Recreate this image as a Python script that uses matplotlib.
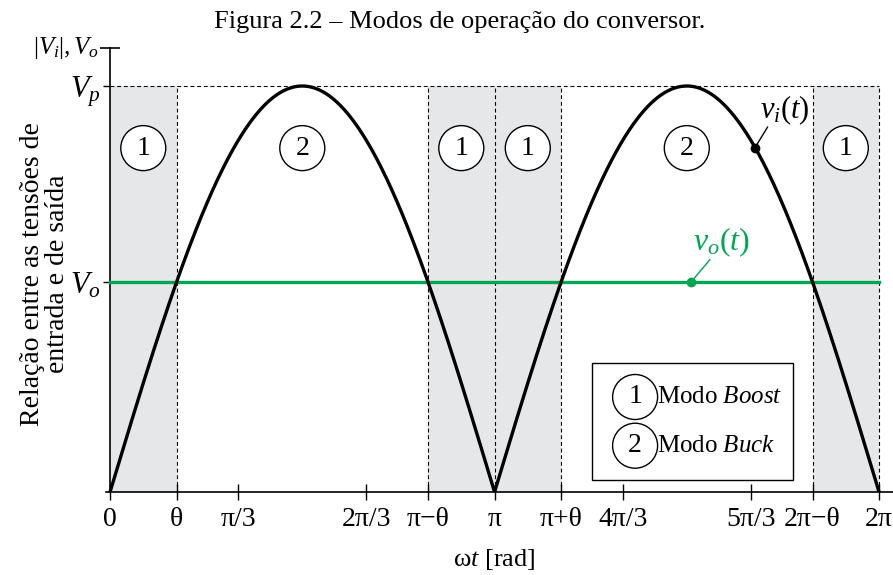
#!/usr/bin/env python3
"""Operating modes of the converter: rectified input vs. output voltage."""

import matplotlib

matplotlib.use("Agg")
import matplotlib.pyplot as plt
import numpy as np
from matplotlib.patches import Rectangle

plt.rcParams["font.family"] = ["Liberation Serif", "DejaVu Serif"]
plt.rcParams["mathtext.fontset"] = "custom"
plt.rcParams["mathtext.rm"] = "Liberation Serif"
plt.rcParams["mathtext.it"] = "Liberation Serif:italic"

# peak input and output voltage (per unit of Vp)
VP = 1.0
VO = 0.517
THETA = np.arcsin(VO / VP)

# x ticks (in rad) and their labels
TICK_POS = [0, THETA, np.pi / 3, 2 * np.pi / 3, np.pi - THETA, np.pi,
            np.pi + THETA, 4 * np.pi / 3, 5 * np.pi / 3, 2 * np.pi - THETA, 2 * np.pi]
TICK_LABELS = ["0", "θ", "π/3", "2π/3", "π−θ", "π", "π+θ", "4π/3", "5π/3", "2π−θ", "2π"]

# mode intervals along ωt and the mode number in each
MODE_EDGES = [0, THETA, np.pi - THETA, np.pi, np.pi + THETA, 2 * np.pi - THETA, 2 * np.pi]
MODES = [1, 2, 1, 1, 2, 1]

GRAY = "#E6E7E8"
GREEN = "#00A651"
FS = 20


def circled(ax, x, y, s, size=FS):
    ax.text(x, y, s, ha="center", va="center", fontsize=size, zorder=6,
            bbox=dict(boxstyle="circle,pad=0.36", fc="white", ec="black", lw=1.0))


def main() -> None:
    fig = plt.figure(figsize=(8.93, 5.75), dpi=100)
    x0, x1 = -0.033, 2 * np.pi + 0.114
    ytop = 1.0936 * VP
    ax = fig.add_axes([106 / 893, 83 / 575, 787 / 893, 444 / 575])
    ax.set_xlim(x0, x1)
    ax.set_ylim(0, ytop)

    wt = np.linspace(0, 2 * np.pi, 1200)
    vi = VP * np.abs(np.sin(wt))

    # shaded boost intervals and the mode marks
    for a, b, m in zip(MODE_EDGES[:-1], MODE_EDGES[1:], MODES):
        if m == 1:
            ax.fill_between([a, b], 0, VP, color=GRAY, lw=0, zorder=0)
        circled(ax, (a + b) / 2, 0.847 * VP, str(m))

    for e in MODE_EDGES[1:]:
        ax.plot([e, e], [0, VP], "--", color="black", lw=0.8, dashes=(3.5, 2.5), zorder=1)
    ax.plot([0, 2 * np.pi], [VP, VP], "--", color="black", lw=0.8, dashes=(3.5, 2.5), zorder=1)

    ax.plot([0, 2 * np.pi], [VO, VO], color=GREEN, lw=2.4, zorder=3)
    ax.plot(wt, vi, color="black", lw=2.4, zorder=4)

    # curve labels
    xi = 5.27
    ax.plot(xi, VP * abs(np.sin(xi)), "o", color="black", ms=6, zorder=5)
    ax.annotate("", xy=(xi, VP * abs(np.sin(xi))), xytext=(xi + 0.115, 0.905),
                arrowprops=dict(arrowstyle="-", lw=1.0, color="black"))
    ax.text(xi + 0.04, 0.9, r"$v_i(t)$", fontsize=22, ha="left", va="bottom")

    xo = 4.747
    ax.plot(xo, VO, "o", color=GREEN, ms=6, zorder=5)
    ax.annotate("", xy=(xo, VO), xytext=(xo + 0.17, 0.578),
                arrowprops=dict(arrowstyle="-", lw=1.0, color=GREEN))
    ax.text(xo + 0.02, 0.575, r"$v_o(t)$", fontsize=23, ha="left", va="bottom", color=GREEN)

    # legend box
    ax.add_patch(Rectangle((3.938, 0.03), 1.642, 0.288, fc="white", ec="black", lw=1.0, zorder=5))
    circled(ax, 4.29, 0.234, "1")
    circled(ax, 4.29, 0.114, "2")
    ax.text(4.47, 0.234, r"Modo $Boost$", fontsize=18, va="center", zorder=6)
    ax.text(4.47, 0.114, r"Modo $Buck$", fontsize=18, va="center", zorder=6)

    # axes
    for side in ("top", "right"):
        ax.spines[side].set_visible(False)
    ax.spines["left"].set_position(("data", 0))
    ax.spines["left"].set_linewidth(1.2)
    ax.spines["bottom"].set_linewidth(1.2)
    ax.set_xticks(TICK_POS)
    ax.set_xticklabels(TICK_LABELS, fontsize=FS)
    ax.tick_params(axis="x", direction="inout", length=12, width=1.0, pad=5)
    ax.set_yticks([VO, VP])
    ax.set_yticklabels([r"$V_o$", r"$V_p$"], fontsize=22)
    ax.tick_params(axis="y", direction="out", length=5, width=1.0, pad=2)
    ax.set_yticks([ytop], minor=True)
    ax.tick_params(axis="y", which="minor", direction="inout", length=14, width=1.2)
    ax.text(-0.09, ytop, r"$|V_i|, V_o$", fontsize=18, ha="right", va="center")

    fig.text(494 / 893, 1 - 560 / 575, r"ω$t$ [rad]", ha="center", va="center", fontsize=19)
    fig.text(45 / 893, 1 - 274 / 575, "Relação entre as tensões de\nentrada e de saída",
             rotation=90, ha="center", va="center", fontsize=FS, linespacing=1.0)
    fig.text(460 / 893, 1 - 22 / 575, "Figura 2.2 – Modos de operação do conversor.",
             ha="center", va="center", fontsize=19)

    fig.savefig("out.png", dpi=100)
    plt.close(fig)


if __name__ == "__main__":
    main()
